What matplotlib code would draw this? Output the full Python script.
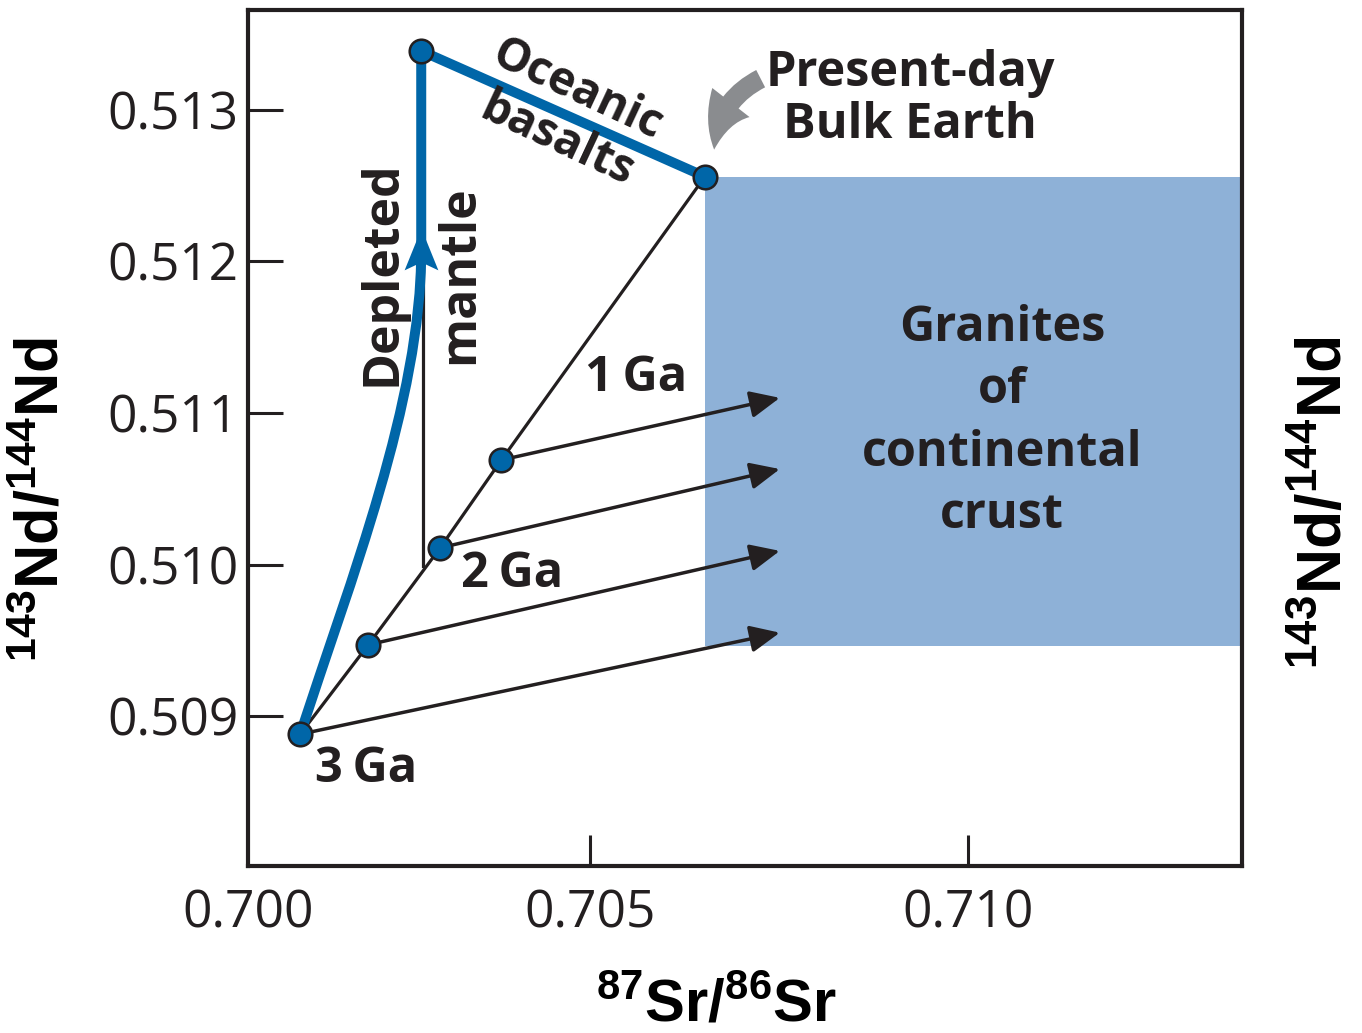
import matplotlib
matplotlib.use('Agg')
import matplotlib.pyplot as plt
from matplotlib.path import Path
from matplotlib.patches import PathPatch, FancyArrowPatch, Rectangle

plt.rcParams['mathtext.fontset'] = 'custom'
plt.rcParams['mathtext.rm'] = 'Liberation Sans:bold'
plt.rcParams['mathtext.it'] = 'Liberation Sans:bold'
plt.rcParams['mathtext.bf'] = 'Liberation Sans:bold'

# ---------------- data ----------------
X_LIMITS = [0.70048, 0.71362]
Y_LIMITS = [0.50801, 0.51366]
x_tick_pos = [0.70048, 0.705, 0.710]
x_tick_labels = ['0.700', '0.705', '0.710']
y_tick_pos = [0.509, 0.510, 0.511, 0.512, 0.513]
y_tick_labels = ['0.509', '0.510', '0.511', '0.512', '0.513']

# isochron points (3 Ga ... present-day bulk earth)
iso_sr = [0.70117, 0.70207, 0.70302, 0.70383, 0.70652]
iso_nd = [0.50888, 0.50947, 0.51011, 0.51069, 0.51256]

# arrow ends of crust evolution (from first four isochron points)
crust_end_sr = [0.70751, 0.70751, 0.70751, 0.70751]
crust_end_nd = [0.50955, 0.51009, 0.51063, 0.51110]

# depleted mantle curve (Bezier control points) and top point
mantle_curve_sr = [0.70117, 0.70183, 0.70277, 0.70277]
mantle_curve_nd = [0.50888, 0.50989, 0.51108, 0.51207]
mantle_top = (0.70277, 0.51339)
mantle_arrow = (0.70277, 0.51208)

# thin vertical reference line
vline_sr = [0.70279, 0.70279]
vline_nd = [0.50999, 0.51200]

# granite field
granite_sr = [0.70652, 0.71362]
granite_nd = [0.50946, 0.51256]

# bulk earth pointer arrow (tail, tip)
pointer_tail = (0.707290, 0.513215)
pointer_tip = (0.706640, 0.512720)

BLUE = '#0066A8'
FIELD = '#8EB1D7'
INK = '#231F20'
GRAY = '#8A8C8F'

fig = plt.figure(figsize=(13.62, 10.33), dpi=100)
ax = fig.add_axes([248/1362, 167/1033, 994/1362, 856/1033])
ax.set_xlim(X_LIMITS)
ax.set_ylim(Y_LIMITS)

for s in ax.spines.values():
    s.set_linewidth(3.0)
    s.set_color(INK)

ax.set_xticks(x_tick_pos)
ax.set_xticklabels(x_tick_labels)
ax.set_yticks(y_tick_pos)
ax.set_yticklabels(y_tick_labels)
ax.tick_params(axis='x', direction='in', length=22, width=2.2, pad=16,
               labelsize=37, colors=INK)
ax.tick_params(axis='y', direction='in', length=25, width=2.2, pad=7,
               labelsize=37, colors=INK)
for lab in ax.get_xticklabels() + ax.get_yticklabels():
    lab.set_fontfamily('Open Sans')
ax.xaxis.get_major_ticks()[0].tick1line.set_visible(False)

# granite field
ax.add_patch(Rectangle((granite_sr[0], granite_nd[0]),
                       granite_sr[1] - granite_sr[0],
                       granite_nd[1] - granite_nd[0],
                       facecolor=FIELD, edgecolor='none', zorder=1))

# thin vertical line
ax.plot(vline_sr, vline_nd, color=INK, lw=2.3, zorder=2)

# isochron line
ax.plot(iso_sr, iso_nd, color=INK, lw=2.3, zorder=2)

# crust arrows
for xs, ys, xe, ye in zip(iso_sr[:4], iso_nd[:4], crust_end_sr, crust_end_nd):
    ax.add_patch(FancyArrowPatch((xs, ys), (xe, ye),
                                 arrowstyle='-|>,head_length=1.5,head_width=0.68',
                                 mutation_scale=12, color=INK, lw=2.5,
                                 shrinkA=0, shrinkB=0, zorder=2))

# depleted mantle curve
verts = [(mantle_curve_sr[i], mantle_curve_nd[i]) for i in range(4)] + [mantle_top]
codes = [Path.MOVETO, Path.CURVE4, Path.CURVE4, Path.CURVE4, Path.LINETO]
ax.add_patch(PathPatch(Path(verts, codes), facecolor='none', edgecolor=BLUE,
                       lw=7.2, capstyle='butt', zorder=3))
# arrowhead on the mantle curve
head = Path([(0, 21), (17, -21), (0, -13), (-17, -21), (0, 21)],
            [Path.MOVETO, Path.LINETO, Path.LINETO, Path.LINETO, Path.CLOSEPOLY])
ax.plot([mantle_arrow[0]], [mantle_arrow[1]], marker=head, ms=30,
        color=BLUE, mec='none', zorder=4)

# oceanic basalts line
ax.plot([mantle_top[0], iso_sr[-1]], [mantle_top[1], iso_nd[-1]],
        color=BLUE, lw=7.2, solid_capstyle='butt', zorder=3)

# points
ax.plot(iso_sr, iso_nd, 'o', ms=17, mfc=BLUE, mec=INK, mew=1.8, zorder=5)
ax.plot([mantle_top[0]], [mantle_top[1]], 'o', ms=17, mfc=BLUE, mec=INK,
        mew=1.8, zorder=5)

# gray pointer arrow
ax.add_patch(FancyArrowPatch(pointer_tail, pointer_tip,
                             connectionstyle='arc3,rad=0.3',
                             arrowstyle='simple,head_length=3.6,head_width=3.4,tail_width=1.4',
                             mutation_scale=10, color=GRAY, lw=0, zorder=3))

tfont = dict(family='Open Sans', weight='bold', color=INK)
ax.text(0.704828, 0.513129, 'Oceanic', rotation=-25, ha='center', va='center',
        fontsize=33, **tfont)
ax.text(0.704563, 0.512799, 'basalts', rotation=-25, ha='center', va='center',
        fontsize=33, **tfont)
ax.text(0.702262, 0.511921, 'Depleted', rotation=90, ha='center', va='center',
        fontsize=36, **tfont)
ax.text(0.703280, 0.511914, 'mantle', rotation=90, ha='center', va='center',
        fontsize=36, **tfont)
ax.text(0.709233, 0.513241, 'Present-day', ha='center', va='center',
        fontsize=35, **tfont)
ax.text(0.709233, 0.512898, 'Bulk Earth', ha='center', va='center',
        fontsize=35, **tfont)
ax.text(0.705608, 0.511228, '1\u2009Ga', ha='center', va='center', fontsize=35, **tfont)
ax.text(0.703975, 0.509931, '2\u2009Ga', ha='center', va='center', fontsize=35, **tfont)
ax.text(0.702046, 0.508647, '3\u2009Ga', ha='center', va='center', fontsize=35, **tfont)
ax.text(0.710446, 0.510940, 'Granites\nof\ncontinental\ncrust', ha='center',
        va='center', fontsize=35, linespacing=1.36, **tfont)

lfont = dict(family='Liberation Sans', weight='bold', color='black')
fig.text(43/1362, 1 - 500/1033, r'$^{143}$Nd/$^{144}$Nd', rotation=90,
         ha='center', va='center', fontsize=44, **lfont)
fig.text(1325/1362, 1 - 503/1033, r'$^{143}$Nd/$^{144}$Nd', rotation=90,
         ha='center', va='center', fontsize=45, **lfont)
fig.text(717/1362, 1 - 1005/1033, r'$^{87}$Sr/$^{86}$Sr', ha='center',
         va='center', fontsize=43, **lfont)

fig.savefig('out.png', dpi=100)
